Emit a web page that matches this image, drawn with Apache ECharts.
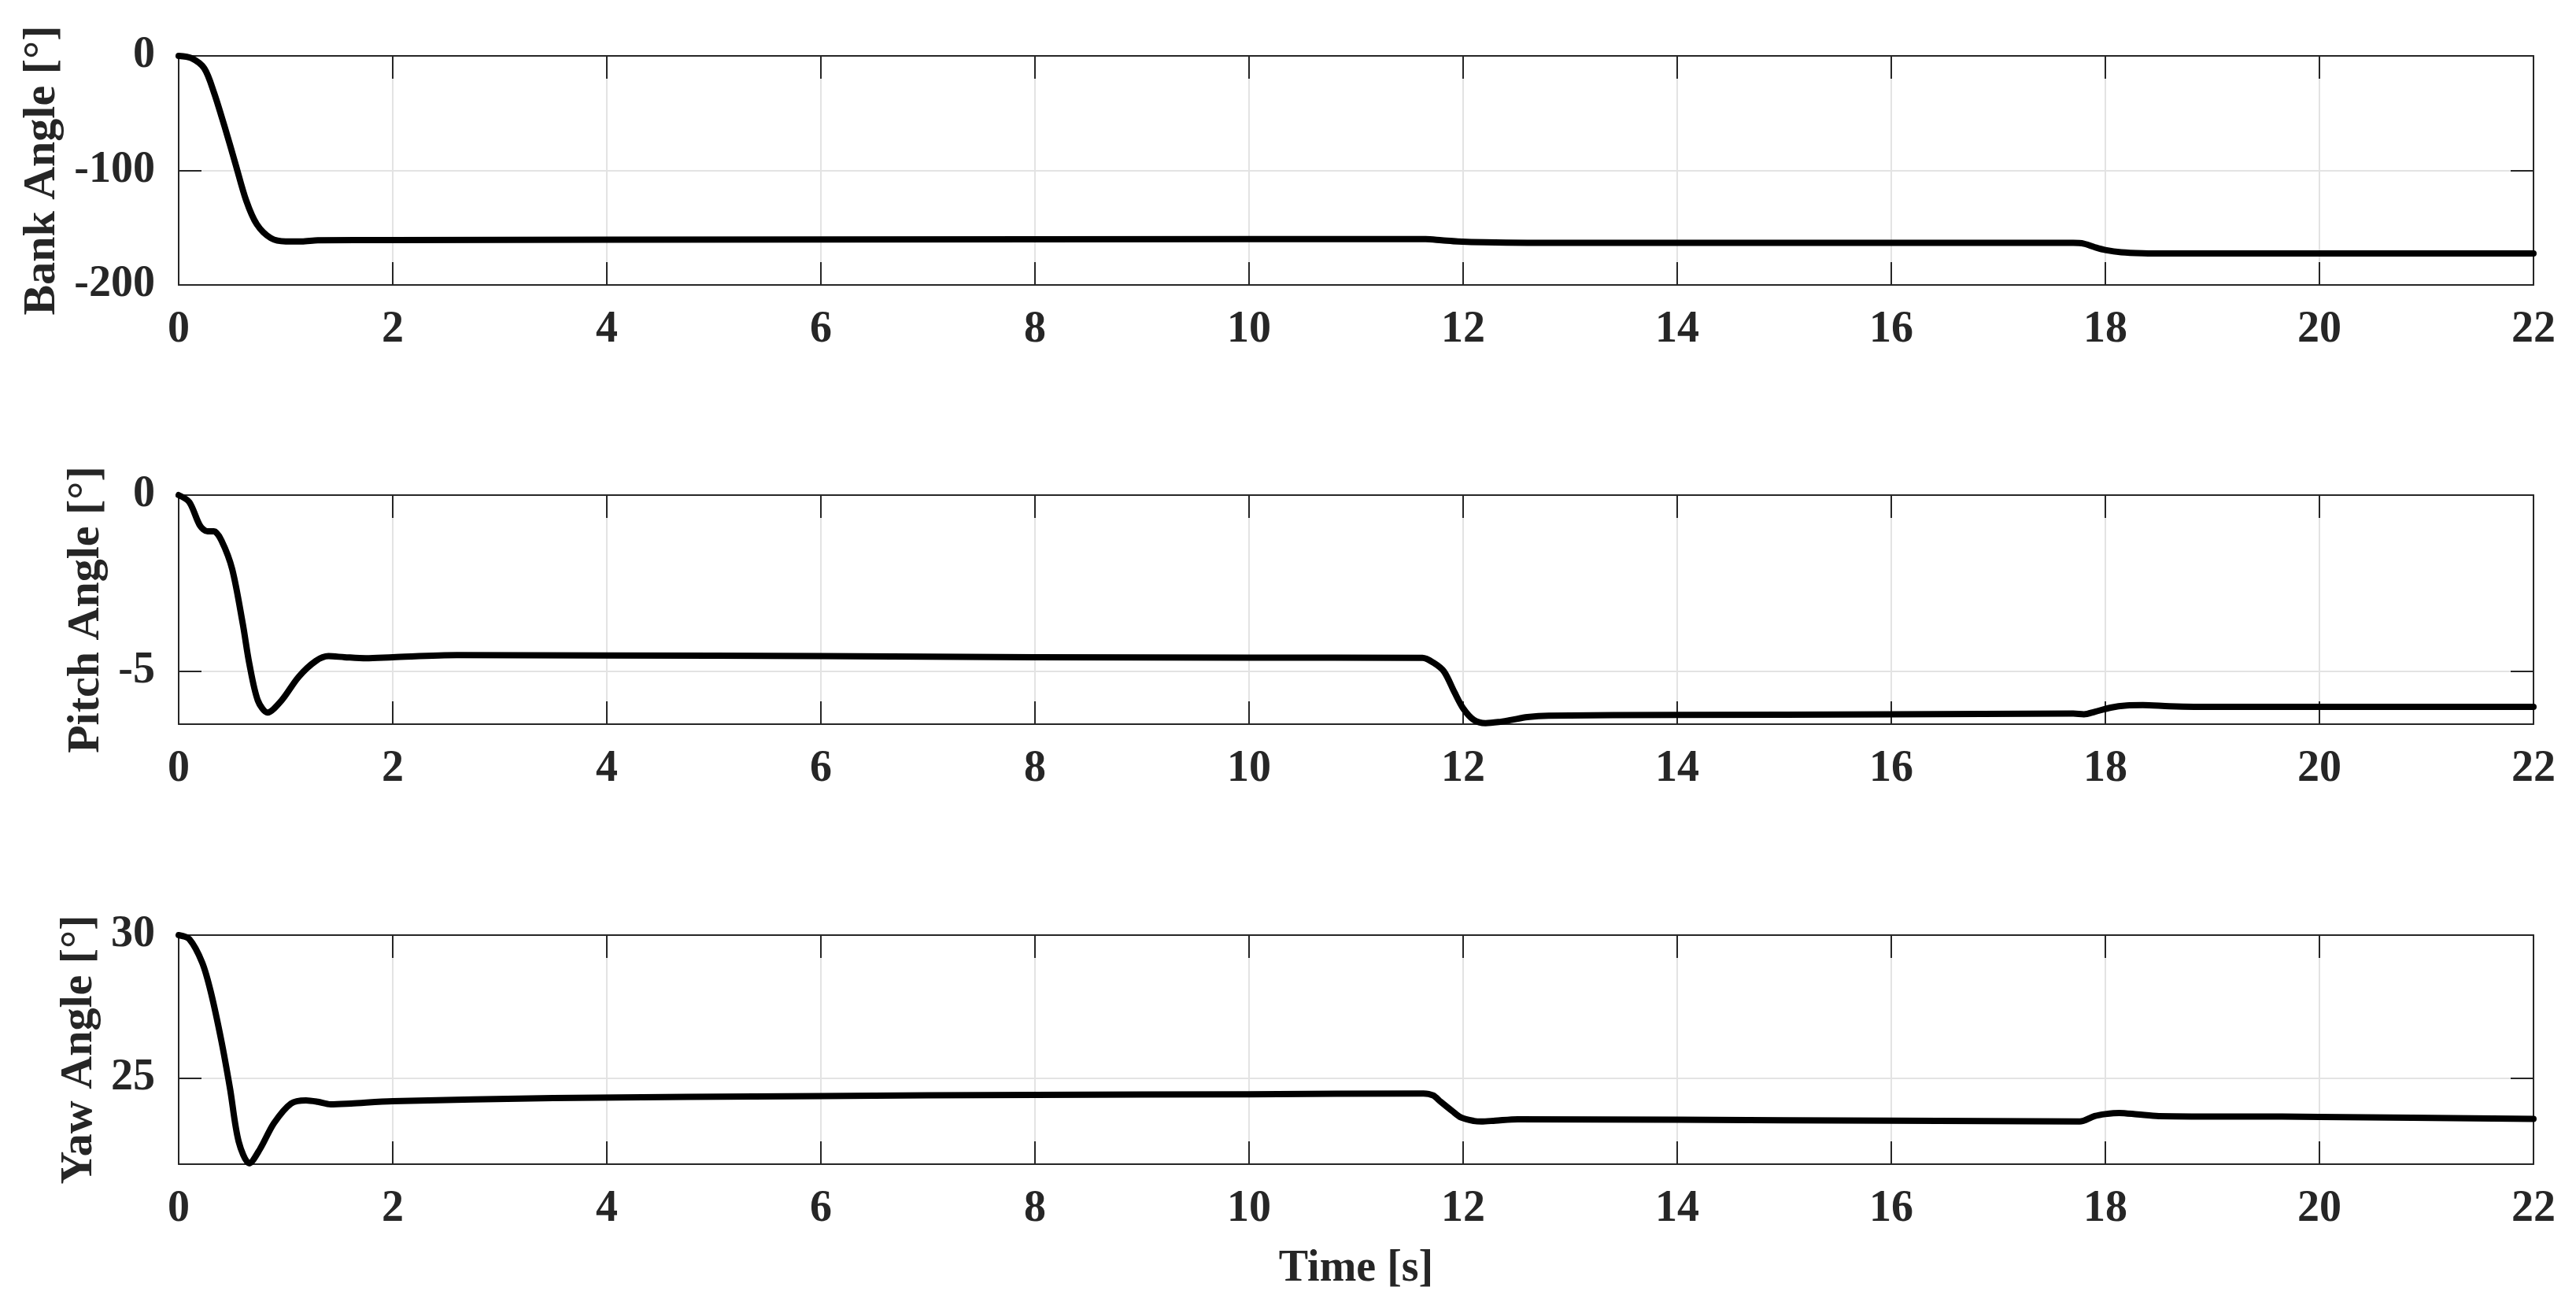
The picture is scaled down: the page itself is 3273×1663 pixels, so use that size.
<!DOCTYPE html>
<html>
<head>
<meta charset="utf-8">
<title>Bank / Pitch / Yaw</title>
<script src="https://cdn.jsdelivr.net/npm/echarts@6/dist/echarts.min.js"></script>
<style>
	html, body {margin: 0; padding: 0; background: #fff;}
	#chart {width: 3273px; height: 1663px;}
</style>
</head>
<body>
<div id="chart"></div>
<script>
(function(){
	'use strict';

	// time axis ticks
	var timeTicks = [0, 2, 4, 6, 8, 10, 12, 14, 16, 18, 20, 22];

	// bank angle [deg]
	var bankTime  = [0, 0.12, 0.24, 0.33, 0.43, 0.53, 0.63, 0.73, 0.86, 1.0, 1.15, 1.3, 2, 6, 10, 11.65, 11.8, 11.95, 12.2, 12.6, 14, 17.7, 17.8, 17.9, 18.0, 18.15, 18.35, 18.6, 22];
	var bankValue = [0, -2, -11, -32, -62, -94, -126, -147, -159, -162, -162, -161, -160.8, -160.3, -160, -160, -161, -162, -162.8, -163.2, -163.3, -163.3, -164, -167, -169.5, -171.5, -172.3, -172.5, -172.5];

	// pitch angle [deg]
	var pitchTime  = [0, 0.1, 0.2, 0.27, 0.33, 0.4, 0.5, 0.6, 0.66, 0.74, 0.83, 0.96, 1.12, 1.28, 1.4, 1.55, 1.75, 2.0, 2.6, 4, 6, 8, 10, 11.62, 11.72, 11.82, 11.92, 12.0, 12.1, 12.21, 12.33, 12.45, 12.6, 12.8, 14, 16, 17.7, 17.8, 17.9, 18.05, 18.2, 18.35, 18.6, 19, 22];
	var pitchValue = [0, -0.2, -0.87, -1.03, -1.03, -1.29, -2.1, -3.67, -4.78, -5.83, -6.17, -5.83, -5.16, -4.71, -4.57, -4.6, -4.63, -4.6, -4.54, -4.55, -4.57, -4.6, -4.61, -4.62, -4.75, -5.0, -5.6, -6.05, -6.38, -6.47, -6.44, -6.38, -6.3, -6.26, -6.24, -6.22, -6.2, -6.22, -6.15, -6.03, -5.97, -5.96, -5.99, -6.01, -6.01];

	// yaw angle [deg]
	var yawTime  = [0, 0.1, 0.22, 0.3, 0.4, 0.48, 0.56, 0.66, 0.76, 0.89, 1.05, 1.19, 1.3, 1.42, 1.61, 2, 3.5, 6, 8, 10, 11.63, 11.72, 11.79, 11.9, 11.98, 12.1, 12.17, 12.3, 12.51, 14, 16, 17.76, 17.9, 18.0, 18.13, 18.3, 18.5, 19.65, 20, 22];
	var yawValue = [30, 29.86, 29.04, 28.02, 26.29, 24.64, 22.8, 22.03, 22.53, 23.43, 24.12, 24.23, 24.18, 24.09, 24.12, 24.2, 24.31, 24.38, 24.42, 24.44, 24.47, 24.4, 24.18, 23.85, 23.63, 23.51, 23.49, 23.52, 23.57, 23.55, 23.52, 23.49, 23.68, 23.75, 23.79, 23.74, 23.68, 23.66, 23.65, 23.58];

	var panels = [
		{name: 'Bank Angle [°]',  t: bankTime,  v: bankValue,  min: -200, max: 0, ticks: [-200, -100, 0], top: 71,   gap: 134},
		{name: 'Pitch Angle [°]', t: pitchTime, v: pitchValue, min: -6.5, max: 0, ticks: [-5, 0],          top: 629,  gap: 76},
		{name: 'Yaw Angle [°]',   t: yawTime,   v: yawValue,   min: 22,   max: 30, ticks: [25, 30],         top: 1188, gap: 90}
	];

	var FONT = "'Liberation Serif', 'Times New Roman', serif";
	var INK = '#262626';
	var GRIDC = '#e3e3e3';

	function pairs(t, v){
		var out = [];
		for (var i = 0; i < t.length; i++) out.push([t[i], v[i]]);
		return out;
	}

	var option = {
		backgroundColor: '#fff',
		animation: false,
		grid: [], xAxis: [], yAxis: [], series: []
	};

	panels.forEach(function(p, i){
		option.grid.push({left: 227, right: 54, top: p.top, height: 291, show: false});
		var last = (i === panels.length - 1);
		// bottom x axis
		option.xAxis.push({
			type: 'value', gridIndex: i, min: 0, max: 22, interval: 2, position: 'bottom',
			name: last ? 'Time [s]' : '', nameLocation: 'middle', nameGap: 106,
			nameTextStyle: {fontFamily: FONT, fontWeight: 'bold', fontSize: 56, color: INK},
			axisLine: {show: true, onZero: false, lineStyle: {color: INK, width: 2}},
			axisTick: {show: true, inside: true, length: 29, lineStyle: {color: INK, width: 2}},
			axisLabel: {show: true, margin: 30, fontFamily: FONT, fontWeight: 'bold', fontSize: 56, color: INK,
				customValues: timeTicks},
			splitLine: {show: true, lineStyle: {color: GRIDC, width: 2}}
		});
		// top x axis (box + mirrored ticks)
		option.xAxis.push({
			type: 'value', gridIndex: i, min: 0, max: 22, interval: 2, position: 'top',
			axisLine: {show: true, onZero: false, lineStyle: {color: INK, width: 2}},
			axisTick: {show: true, inside: true, length: 29, lineStyle: {color: INK, width: 2}},
			axisLabel: {show: false}, splitLine: {show: false}
		});
		// left y axis
		option.yAxis.push({
			type: 'value', gridIndex: i, min: p.min, max: p.max, position: 'left',
			name: p.name, nameLocation: 'middle', nameRotate: 90, nameGap: p.gap,
			nameTextStyle: {fontFamily: FONT, fontWeight: 'bold', fontSize: 58, color: INK},
			axisLine: {show: true, onZero: false, lineStyle: {color: INK, width: 2}},
			axisTick: {show: true, inside: true, length: 29, lineStyle: {color: INK, width: 2}, customValues: p.ticks},
			axisLabel: {show: true, margin: 30, fontFamily: FONT, fontWeight: 'bold', fontSize: 56, color: INK, customValues: p.ticks},
			splitLine: {show: true, lineStyle: {color: GRIDC, width: 2}}
		});
		// right y axis
		option.yAxis.push({
			type: 'value', gridIndex: i, min: p.min, max: p.max, position: 'right',
			axisLine: {show: true, onZero: false, lineStyle: {color: INK, width: 2}},
			axisTick: {show: true, inside: true, length: 29, lineStyle: {color: INK, width: 2}, customValues: p.ticks},
			axisLabel: {show: false}, splitLine: {show: false}
		});
		option.series.push({
			type: 'line', xAxisIndex: i * 2, yAxisIndex: i * 2,
			data: pairs(p.t, p.v),
			showSymbol: false, smooth: 0.3, clip: false,
			lineStyle: {color: '#000', width: 8, join: 'round', cap: 'round'}
		});
	});

	var chart = echarts.init(document.getElementById('chart'), null, {renderer: 'canvas'});
	chart.setOption(option);
})();
</script>
</body>
</html>
